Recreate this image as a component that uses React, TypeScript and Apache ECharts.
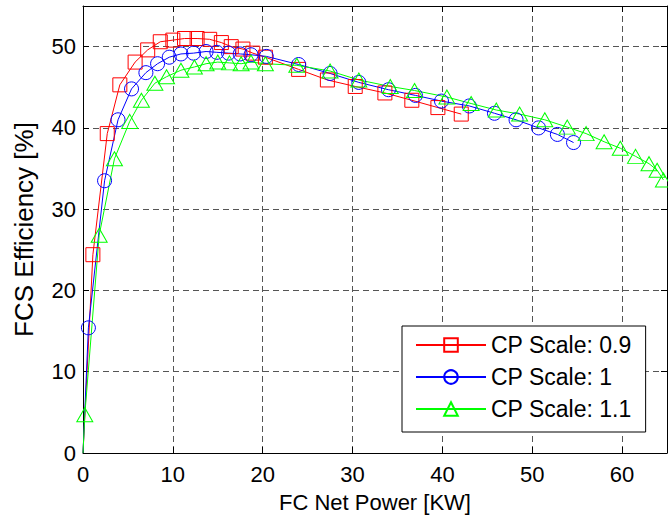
import React, { useEffect, useRef } from "react";
import * as echarts from "echarts";

const seriesNames = ["CP Scale: 0.9", "CP Scale: 1", "CP Scale: 1.1"];

const redPoints: [number, number][] = [
  [0, 0], [1.1, 24.4], [2.7, 39.3], [4.1, 45.3], [5.8, 48.1], [7.2, 49.6], [8.6, 50.6],
  [10.0, 50.8], [11.3, 51.0], [12.7, 51.0], [14.1, 50.9], [15.4, 50.5], [16.5, 50.0],
  [17.8, 49.7], [18.9, 49.2], [20.3, 48.7], [24.0, 47.2], [27.2, 45.9], [30.3, 45.1],
  [33.6, 44.3], [36.6, 43.4], [39.5, 42.5], [42.1, 41.7],
];

const bluePoints: [number, number][] = [
  [0, 0], [0.6, 15.4], [2.4, 33.5], [3.9, 41.0], [5.4, 44.8], [7.0, 46.8], [8.3, 47.9],
  [9.6, 48.7], [10.9, 49.1], [12.3, 49.2], [13.7, 49.4], [14.9, 49.3], [16.2, 49.2],
  [17.5, 49.1], [18.7, 49.0], [20.4, 48.8], [24.0, 47.8], [27.5, 46.7], [30.7, 45.6],
  [34.0, 44.7], [37.0, 44.0], [39.9, 43.3], [43.0, 42.7], [45.8, 41.8], [48.2, 41.0],
  [50.7, 40.0], [52.8, 39.2], [54.6, 38.2],
];

const greenPoints: [number, number][] = [
  [0, 0], [0.2, 4.7], [1.8, 26.8], [3.5, 36.2], [5.2, 40.8], [6.5, 43.4], [8.0, 45.5],
  [9.3, 46.3], [10.9, 47.1], [12.4, 47.5], [13.7, 47.9], [15.0, 48.1], [16.3, 48.0],
  [17.6, 47.9], [18.7, 48.1], [20.3, 47.9], [23.8, 47.7], [27.5, 47.0], [30.7, 45.9],
  [34.2, 45.1], [36.9, 44.6], [40.5, 43.8], [43.2, 43.0], [46.0, 42.2], [48.6, 41.7],
  [51.4, 41.0], [53.9, 40.1], [56.0, 39.3], [58.0, 38.3], [59.8, 37.5], [61.5, 36.5],
  [63.0, 35.6], [63.9, 34.8], [64.6, 33.6],
];

const xTicks = { min: 0, max: 65, interval: 10 };
const yTicks = { min: 0, max: 55, interval: 10 };

const FONT = "Liberation Sans, Arial, sans-serif";

function toData(pts: [number, number][]) {
  return pts.map((p) =>
    p[0] === 0 && p[1] === 0 ? { value: p, symbol: "none" } : { value: p }
  );
}

export default function App() {
  const ref = useRef<HTMLDivElement>(null);

  useEffect(() => {
    document.body.style.margin = "0";
    if (!ref.current) return;
    const chart = echarts.init(ref.current, undefined, { renderer: "svg" });

    const gridLine = { show: true, lineStyle: { color: "#555", type: [6, 4] as any, width: 1 } };
    const axisLine = { show: true, onZero: false, lineStyle: { color: "#000", width: 1 } };
    const tick = { show: true, inside: true, length: 6, lineStyle: { color: "#000" } };

    const mk = (name: string, color: string, symbol: string, size: any, pts: [number, number][]) => ({
      name,
      type: "line",
      data: toData(pts),
      symbol,
      symbolSize: size,
      showAllSymbol: true,
      clip: false,
      lineStyle: { color, width: 1 },
      itemStyle: { color: "transparent", borderColor: color, borderWidth: 1 },
      emphasis: { disabled: true },
    });

    chart.setOption({
      animation: false,
      backgroundColor: "#fff",
      grid: { left: 83, right: 1, top: 6, bottom: 66, containLabel: false },
      xAxis: [
        {
          type: "value",
          min: xTicks.min,
          max: xTicks.max,
          interval: xTicks.interval,
          position: "bottom",
          name: "FC Net Power [KW]",
          nameLocation: "middle",
          nameGap: 38,
          nameTextStyle: { fontFamily: FONT, fontSize: 22, color: "#000" },
          axisLine,
          axisTick: tick,
          axisLabel: { fontFamily: FONT, fontSize: 22, color: "#000", margin: 10, showMaxLabel: false },
          splitLine: gridLine,
        },
        {
          type: "value",
          min: xTicks.min,
          max: xTicks.max,
          interval: xTicks.interval,
          position: "top",
          axisLine,
          axisTick: tick,
          axisLabel: { show: false },
          splitLine: { show: false },
        },
      ],
      yAxis: [
        {
          type: "value",
          min: yTicks.min,
          max: yTicks.max,
          interval: yTicks.interval,
          position: "left",
          name: "FCS Efficiency [%]",
          nameLocation: "middle",
          nameGap: 46,
          nameTextStyle: { fontFamily: FONT, fontSize: 26, color: "#000" },
          axisLine,
          axisTick: tick,
          axisLabel: { fontFamily: FONT, fontSize: 22, color: "#000", margin: 7, showMaxLabel: false },
          splitLine: gridLine,
        },
        {
          type: "value",
          min: yTicks.min,
          max: yTicks.max,
          interval: yTicks.interval,
          position: "right",
          axisLine,
          axisTick: tick,
          axisLabel: { show: false },
          splitLine: { show: false },
        },
      ],
      legend: {
        data: seriesNames,
        orient: "vertical",
        left: 402,
        top: 326,
        padding: [7, 14, 11, 13],
        itemWidth: 70,
        itemHeight: 17,
        itemGap: 8,
        backgroundColor: "#fff",
        borderColor: "#000",
        borderWidth: 1,
        borderRadius: 0,
        textStyle: { fontFamily: FONT, fontSize: 23, color: "#000", lineHeight: 24 },
      },
      series: [
        mk(seriesNames[0], "#ff0000", "rect", 14, redPoints),
        mk(seriesNames[1], "#0000ff", "circle", 14, bluePoints),
        mk(seriesNames[2], "#00ff00", "triangle", [16, 14], greenPoints),
      ],
    });

    return () => chart.dispose();
  }, []);

  return <div ref={ref} style={{ width: 668, height: 519 }} />;
}
